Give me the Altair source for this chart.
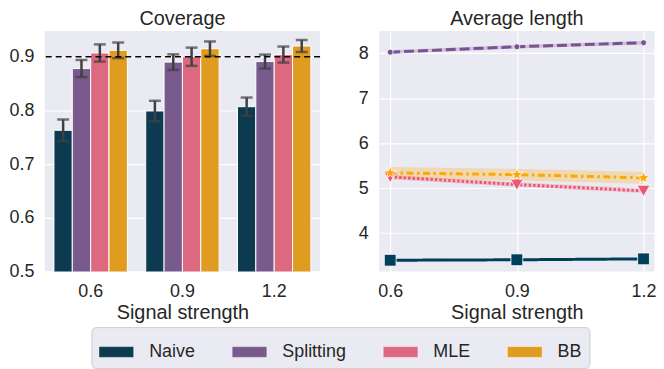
import altair as alt
import pandas as pd

methods = ["Naive", "Splitting", "MLE", "BB"]
signals = [0.6, 0.9, 1.2]
signal_labels = ["0.6", "0.9", "1.2"]

# Coverage (bar heights) and error half-widths
cov_naive = [0.763, 0.799, 0.807]
cov_split = [0.878, 0.890, 0.891]
cov_mle = [0.907, 0.900, 0.904]
cov_bb = [0.912, 0.915, 0.920]
err_naive = [0.020, 0.019, 0.017]
err_split = [0.016, 0.0145, 0.013]
err_mle = [0.016, 0.017, 0.015]
err_bb = [0.0145, 0.0135, 0.011]
target = [0.9]

# Average length (line values) and band half-widths
len_naive = [3.40, 3.41, 3.43]
len_split = [8.02, 8.14, 8.23]
len_mle = [5.25, 5.08, 4.94]
len_bb = [5.34, 5.30, 5.23]
band_naive = [0.02, 0.02, 0.02]
band_split = [0.04, 0.04, 0.04]
band_mle = [0.05, 0.05, 0.05]
band_bb = [0.13, 0.13, 0.13]

bar_colors = ["#0c3b51", "#785a8d", "#dc6980", "#df9c20"]
line_colors = ["#003f5c", "#7a5195", "#ef5675", "#ffa600"]
dashes = [[1, 0], [10, 4], [2.5, 2], [7, 3.5, 2.5, 3.5]]
star = "M0,-1L0.235,-0.324L0.951,-0.309L0.380,0.124L0.588,0.809L0,0.4L-0.588,0.809L-0.380,0.124L-0.951,-0.309L-0.235,-0.324Z"
shapes = ["square", "circle", "triangle-down", star]
sizes = [140, 36, 170, 170]

covs = [cov_naive, cov_split, cov_mle, cov_bb]
errs = [err_naive, err_split, err_mle, err_bb]
lens = [len_naive, len_split, len_mle, len_bb]
bands = [band_naive, band_split, band_mle, band_bb]

cov_rows = []
len_rows = []
for m, c, e, l, b in zip(methods, covs, errs, lens, bands):
    for i in range(3):
        cov_rows.append({"Method": m, "Signal": signal_labels[i], "Coverage": c[i],
                         "lo": c[i] - e[i], "hi": c[i] + e[i]})
        len_rows.append({"Series": m, "Strength": signals[i], "Length": l[i],
                         "low": l[i] - b[i], "high": l[i] + b[i]})
cov_df = pd.DataFrame(cov_rows)
len_df = pd.DataFrame(len_rows)

FONT = "Liberation Sans"

xb = alt.X("Signal:N", sort=signal_labels,
           scale=alt.Scale(paddingInner=0.2, paddingOuter=0.1),
           axis=alt.Axis(title="Signal strength", labelAngle=0, grid=False))
xo = alt.XOffset("Method:N", sort=methods, scale=alt.Scale(domain=methods, paddingInner=0, paddingOuter=0))
yscale = alt.Scale(domain=[0.5, 0.948], zero=False, nice=False)

rect_path = "M-1,-0.31H1V0.31H-1Z"

bars = alt.Chart(cov_df).mark_bar(clip=True, stroke="white", strokeWidth=1).encode(
    x=xb, xOffset=xo,
    y=alt.Y("Coverage:Q", scale=yscale,
            axis=alt.Axis(title=None, values=[0.5, 0.6, 0.7, 0.8, 0.9], format=".1f")),
    fill=alt.Fill("Method:N", sort=methods, scale=alt.Scale(domain=methods, range=bar_colors),
                  legend=alt.Legend(title=None, orient="none", legendX=47, legendY=298,
                                    direction="horizontal", symbolType=rect_path,
                                    symbolSize=1225, labelFontSize=18, labelOffset=15,
                                    columnPadding=35, padding=7, fillColor="#eaeaf2",
                                    strokeColor="#cccccc", cornerRadius=4,
                                    symbolStrokeColor="white", symbolStrokeWidth=0.5,
                                    symbolOpacity=1, labelFont=FONT, labelColor="#262626")),
)
err = alt.Chart(cov_df).mark_rule(color="#404040", strokeWidth=2.5).encode(
    x=xb, xOffset=xo, y=alt.Y("lo:Q", scale=yscale), y2="hi:Q")
cap_lo = alt.Chart(cov_df).mark_tick(color="#404040", thickness=2.5, size=12).encode(
    x=xb, xOffset=xo, y=alt.Y("lo:Q", scale=yscale))
cap_hi = alt.Chart(cov_df).mark_tick(color="#404040", thickness=2.5, size=12).encode(
    x=xb, xOffset=xo, y=alt.Y("hi:Q", scale=yscale))
ref = alt.Chart(pd.DataFrame({"t": target})).mark_rule(
    color="black", strokeDash=[6, 4], strokeWidth=1.5).encode(y=alt.Y("t:Q", scale=yscale))

left = alt.layer(bars, err, cap_lo, cap_hi, ref).properties(width=277, height=242, title="Coverage")

xq = alt.X("Strength:Q", scale=alt.Scale(domain=[0.574, 1.226], nice=False, zero=False),
           axis=alt.Axis(title="Signal strength", values=signals, format=".1f"))
ys = alt.Scale(domain=[3.15, 8.49], nice=False, zero=False)

band = alt.Chart(len_df).mark_area(opacity=0.25).encode(
    x=xq, y=alt.Y("low:Q", scale=ys), y2="high:Q",
    color=alt.Color("Series:N", sort=methods, scale=alt.Scale(range=line_colors), legend=None))
line = alt.Chart(len_df).mark_line(strokeWidth=3).encode(
    x=xq,
    y=alt.Y("Length:Q", scale=ys, axis=alt.Axis(title=None, values=[4, 5, 6, 7, 8])),
    stroke=alt.Stroke("Series:N", sort=methods, scale=alt.Scale(range=line_colors), legend=None),
    strokeDash=alt.StrokeDash("Series:N", sort=methods, scale=alt.Scale(range=dashes), legend=None),
    order=alt.Order("Strength:Q"))

pt_layers = []
for m, col, shp, sz in zip(methods, line_colors, shapes, sizes):
    pt_layers.append(
        alt.Chart(len_df).transform_filter(alt.datum.Series == m).mark_point(
            filled=True, fill=col, stroke="white", strokeWidth=0.8, opacity=1,
            shape=shp, size=sz
        ).encode(x=xq, y=alt.Y("Length:Q", scale=ys))
    )

right = alt.layer(band, line, *pt_layers).properties(width=277, height=242, title="Average length")

chart = alt.hconcat(left, right, spacing=36.5).resolve_legend(
    color="independent", stroke="independent", strokeDash="independent"
).properties(padding=0).configure_view(
    fill="#eaeaf2", stroke=None
).configure_axis(
    gridColor="white", gridWidth=1.2, domain=False, ticks=False,
    labelFontSize=18, titleFontSize=20, labelColor="#262626", titleColor="#262626",
    labelPadding=11, titleFontWeight="normal", labelFont=FONT, titleFont=FONT, titlePadding=2
).configure_title(
    fontSize=20, fontWeight="normal", font=FONT, color="#262626", offset=2, anchor="middle"
)

chart.save("out.html", embed_options={"renderer": "svg", "actions": False})
